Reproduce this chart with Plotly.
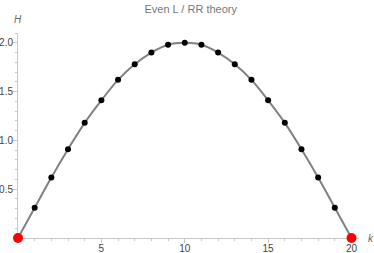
import plotly.graph_objects as go

k_vals = list(range(21))
H_vals = [0.0, 0.31, 0.62, 0.91, 1.18, 1.41, 1.62, 1.78, 1.90, 1.98, 2.0,
          1.98, 1.90, 1.78, 1.62, 1.41, 1.18, 0.91, 0.62, 0.31, 0.0]
end_k = [0, 20]
end_H = [0.0, 0.0]

x_ticks = [5, 10, 15, 20]
y_ticks = [0.5, 1.0, 1.5, 2.0]
y_tick_text = ["0.5", "1.0", "1.5", "2.0"]

FONT = "Liberation Sans, Arial, sans-serif"

fig = go.Figure()
fig.add_trace(go.Scatter(x=k_vals, y=H_vals, mode="lines",
                         line=dict(color="#808080", width=2, shape="spline"),
                         cliponaxis=False, hoverinfo="skip"))
fig.add_trace(go.Scatter(x=k_vals[1:-1], y=H_vals[1:-1], mode="markers",
                         marker=dict(color="black", size=6, line=dict(width=0)),
                         cliponaxis=False))
fig.add_trace(go.Scatter(x=end_k, y=end_H, mode="markers",
                         marker=dict(color="#ff0000", size=10, line=dict(width=0)),
                         cliponaxis=False))

axis_common = dict(showgrid=False, zeroline=False, showline=True,
                   linecolor="#c8c8c8", linewidth=1, ticks="outside",
                   tickcolor="#c8c8c8", ticklen=4, automargin=False,
                   layer="below traces")

fig.update_layout(
    template="simple_white",
    width=374, height=253,
    margin=dict(l=18, r=15, t=33, b=15, autoexpand=False),
    paper_bgcolor="white", plot_bgcolor="white",
    showlegend=False,
    hovermode=False,
    title=dict(text="Even L / RR theory", x=0.51, xanchor="center",
               y=0.98, yanchor="top",
               font=dict(family=FONT, size=11, color="#777777")),
    xaxis=dict(range=[0, 20.45], tickvals=x_ticks,
               ticklabelstandoff=-3,
               tickfont=dict(family=FONT, size=10, color="#444444"),
               minor=dict(dtick=1, tick0=0, ticks="outside", ticklen=2,
                          tickcolor="#c8c8c8"),
               **axis_common),
    yaxis=dict(range=[0, 2.1], tickvals=y_ticks, ticktext=y_tick_text,
               ticklabelstandoff=-2,
               tickfont=dict(family=FONT, size=10, color="#444444"),
               minor=dict(dtick=0.1, tick0=0, ticks="outside", ticklen=2,
                          tickcolor="#c8c8c8"),
               **axis_common),
    annotations=[
        dict(text="<i>H</i>", xref="paper", yref="paper", x=0, y=1.03,
             xanchor="center", yanchor="bottom", showarrow=False,
             font=dict(family=FONT, size=10, color="#666666")),
        dict(text="<i>k</i>", xref="paper", yref="paper", x=1.02, y=0,
             xanchor="left", yanchor="middle", showarrow=False,
             font=dict(family=FONT, size=10, color="#666666")),
    ],
)

fig.write_html("out.html", config={"displayModeBar": False, "staticPlot": True},
               post_script="document.body.style.margin='0';document.body.style.padding='0';")
